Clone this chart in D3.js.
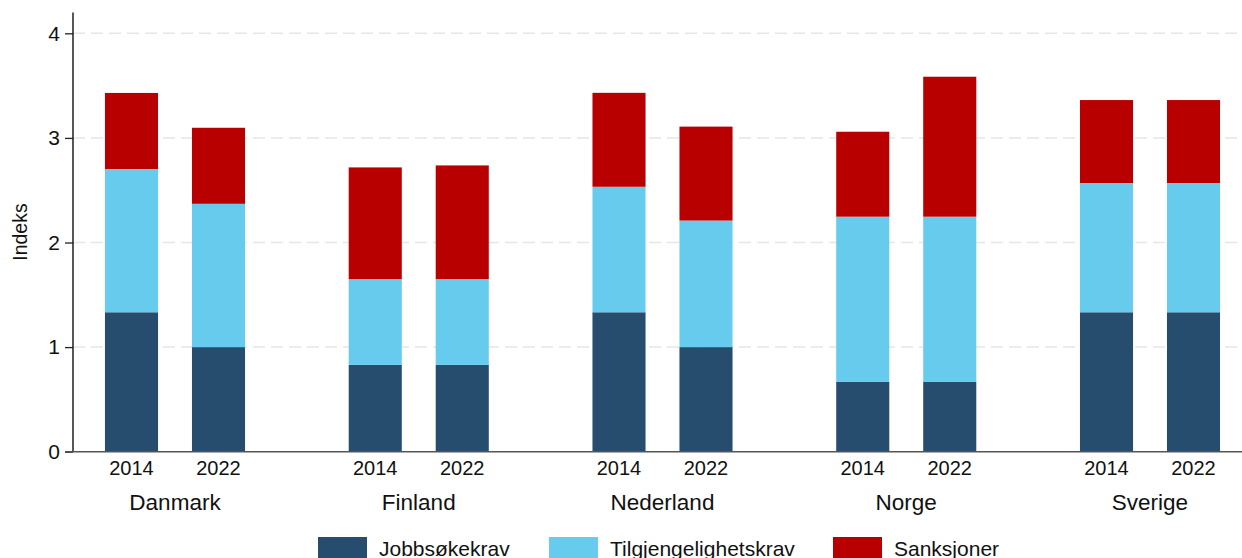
<!DOCTYPE html>
<html>
<head>
<meta charset="utf-8">
<script src="https://cdn.jsdelivr.net/npm/d3@7"></script>
<style>
  body { margin: 0; background: #fff; }
  text { font-family: "Liberation Sans", Arial, Helvetica, sans-serif; fill: #111; }
</style>
</head>
<body>
<div id="chart"></div>
<script>
// data
var countries = ["Danmark", "Finland", "Nederland", "Norge", "Sverige"];
var years = ["2014", "2022"];
var seriesNames = ["Jobbsøkekrav", "Tilgjengelighetskrav", "Sanksjoner"];
var colors = ["#264c6e", "#66cbec", "#b80000"];

// one value per country/year, in order Danmark 2014, Danmark 2022, Finland 2014 ...
var jobbsok = [1.333, 1.0, 0.83, 0.83, 1.333, 1.0, 0.667, 0.667, 1.333, 1.333];
var tilgjengelighet = [1.37, 1.37, 0.82, 0.82, 1.2, 1.21, 1.58, 1.58, 1.236, 1.236];
var sanksjoner = [0.727, 0.727, 1.068, 1.087, 0.898, 0.898, 0.812, 1.338, 0.793, 0.793];
var yTicks = [0, 1, 2, 3, 4];

var svgWidth = 1242;
var svgHeight = 558;

var svg = d3.select("#chart")
  .append("svg")
  .attr("width", svgWidth)
  .attr("height", svgHeight);

// build rows for the stack
var rows = [];
countries.forEach(function(c, i) {
  years.forEach(function(y, j) {
    var k = i * years.length + j;
    rows.push({
      country: c, year: y,
      "Jobbsøkekrav": jobbsok[k],
      "Tilgjengelighetskrav": tilgjengelighet[k],
      "Sanksjoner": sanksjoner[k]
    });
  });
});

var stacked = d3.stack().keys(seriesNames)(rows);

// scales
var x0 = d3.scalePoint().domain(countries).range([175, 1150]);
var x1 = d3.scaleBand().domain(years).range([-87, 87])
  .paddingInner(0.39).paddingOuter(0.195);
var y = d3.scaleLinear().domain([0, 4.2]).range([451.7, 12.4]);
var color = d3.scaleOrdinal().domain(seriesNames).range(colors);

var axisX = 73;
var plotRight = 1242;

// gridlines
svg.append("g")
  .selectAll("line")
  .data(yTicks.filter(d => d > 0))
  .enter()
  .append("line")
  .attr("x1", axisX)
  .attr("x2", plotRight)
  .attr("y1", d => y(d))
  .attr("y2", d => y(d))
  .attr("stroke", "#e6e6e6")
  .attr("stroke-width", 1.5)
  .attr("stroke-dasharray", "12,6");

// bars
svg.append("g")
  .selectAll("g")
  .data(stacked)
  .enter()
  .append("g")
  .attr("fill", d => color(d.key))
  .selectAll("rect")
  .data(d => d)
  .enter()
  .append("rect")
  .attr("x", d => x0(d.data.country) + x1(d.data.year))
  .attr("width", x1.bandwidth())
  .attr("y", d => y(d[1]))
  .attr("height", d => y(d[0]) - y(d[1]));

// y axis
var leftAxis = d3.axisLeft(y)
  .tickValues(yTicks)
  .tickFormat(d3.format("d"))
  .tickSize(8)
  .tickPadding(5);

var yAxisG = svg.append("g")
  .attr("transform", `translate(${axisX}, 0)`)
  .call(leftAxis);
yAxisG.select(".domain").remove();
yAxisG.selectAll(".tick line").attr("stroke", "#222").attr("stroke-width", 1.3);
yAxisG.selectAll(".tick text")
  .style("font-size", "21px")
  .attr("fill", "#111")
  .attr("font-family", "Liberation Sans, Arial, sans-serif");

svg.append("line")
  .attr("x1", axisX).attr("x2", axisX)
  .attr("y1", y(4.2)).attr("y2", y(0))
  .attr("stroke", "#111")
  .attr("stroke-width", 1.4);

// baseline
svg.append("line")
  .attr("x1", 65).attr("x2", plotRight)
  .attr("y1", y(0)).attr("y2", y(0))
  .attr("stroke", "#555")
  .attr("stroke-width", 1.6);

// year labels
svg.append("g")
  .selectAll("text")
  .data(rows)
  .enter()
  .append("text")
  .attr("x", d => x0(d.country) + x1(d.year) + x1.bandwidth() / 2)
  .attr("y", 475)
  .style("text-anchor", "middle")
  .style("font-size", "20px")
  .text(d => d.year);

// country labels
svg.append("g")
  .selectAll("text")
  .data(countries)
  .enter()
  .append("text")
  .attr("x", d => x0(d))
  .attr("y", 510)
  .style("text-anchor", "middle")
  .style("font-size", "22.5px")
  .text(d => d);

// y axis title
svg.append("text")
  .attr("transform", `translate(27, ${(y(0) + y(4.2)) / 2}) rotate(-90)`)
  .style("text-anchor", "middle")
  .style("font-size", "19.5px")
  .text("Indeks");

// legend
var legendX = [318, 549, 833];
var legend = svg.append("g")
  .selectAll("g")
  .data(seriesNames)
  .enter()
  .append("g")
  .attr("transform", (d, i) => `translate(${legendX[i]}, 537)`);

legend.append("rect")
  .attr("width", 49)
  .attr("height", 24)
  .attr("fill", d => color(d));

legend.append("text")
  .attr("x", 61)
  .attr("y", 19)
  .style("font-size", "21px")
  .text(d => d);
</script>
</body>
</html>
